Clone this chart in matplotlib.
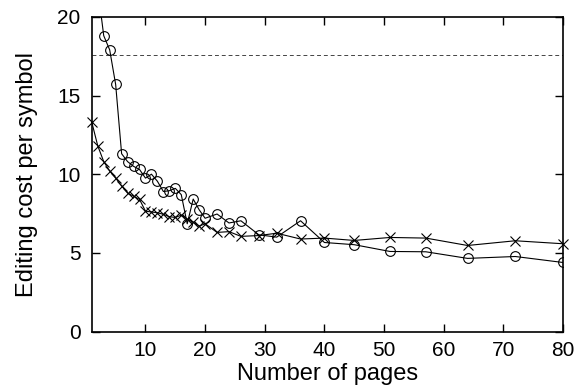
import matplotlib
matplotlib.use('Agg')
import matplotlib.pyplot as plt

plt.rcParams['font.family'] = ['Liberation Sans', 'DejaVu Sans']

# circle series (editing cost per symbol)
pages_circ = [2, 3, 4, 5, 6, 7, 8, 9, 10, 11, 12, 13, 14, 15, 16, 17, 18, 19, 20,
              22, 24, 26, 29, 32, 36, 40, 45, 51, 57, 64, 72, 80]
cost_circ = [21.8, 18.8, 17.9, 15.7, 11.3, 10.8, 10.5, 10.3, 9.75, 10.0, 9.55, 8.9,
             8.95, 9.1, 8.7, 6.85, 8.42, 7.74, 7.2, 7.47, 6.9, 7.04, 6.15, 6.0,
             7.04, 5.66, 5.52, 5.09, 5.07, 4.65, 4.77, 4.39]

# cross series
pages_x = [1, 2, 3, 4, 5, 6, 7, 8, 9, 10, 11, 12, 13, 14, 15, 16, 17, 18, 19, 20,
           22, 24, 26, 29, 32, 36, 40, 45, 51, 57, 64, 72, 80]
cost_x = [13.3, 11.8, 10.8, 10.2, 9.75, 9.25, 8.8, 8.6, 8.4, 7.65, 7.6, 7.55, 7.45,
          7.3, 7.25, 7.4, 7.15, 6.95, 6.7, 6.85, 6.3, 6.35, 6.05, 6.1, 6.25, 5.88,
          5.94, 5.79, 5.98, 5.94, 5.47, 5.77, 5.58]

baseline = 17.6

fig = plt.figure(figsize=(5.81, 3.91), dpi=100)
ax = fig.add_axes([0.158, 0.152, 0.811, 0.805])

ax.axhline(baseline, color='#444444', linestyle=(0, (4, 3)), linewidth=0.7)
ax.plot(pages_circ, cost_circ, '-o', color='black', linewidth=0.8,
        markersize=7, markerfacecolor='none', markeredgewidth=0.8, clip_on=True)
ax.plot(pages_x, cost_x, '-x', color='black', linewidth=0.8,
        markersize=7, markeredgewidth=0.8, clip_on=False)

ax.set_xlim(1, 80)
ax.set_ylim(0, 20)
ax.set_xticks(range(10, 81, 10))
ax.set_yticks(range(0, 21, 5))
ax.tick_params(direction='in', top=True, right=True, length=6, width=1,
               labelsize=15)
ax.tick_params(axis='x', pad=7)
ax.tick_params(axis='y', pad=8)
for s in ax.spines.values():
    s.set_linewidth(1.2)

ax.set_xlabel('Number of pages', fontsize=17, labelpad=2)
ax.set_ylabel('Editing cost per symbol', fontsize=17, labelpad=14)

fig.savefig('out.png', dpi=100)
